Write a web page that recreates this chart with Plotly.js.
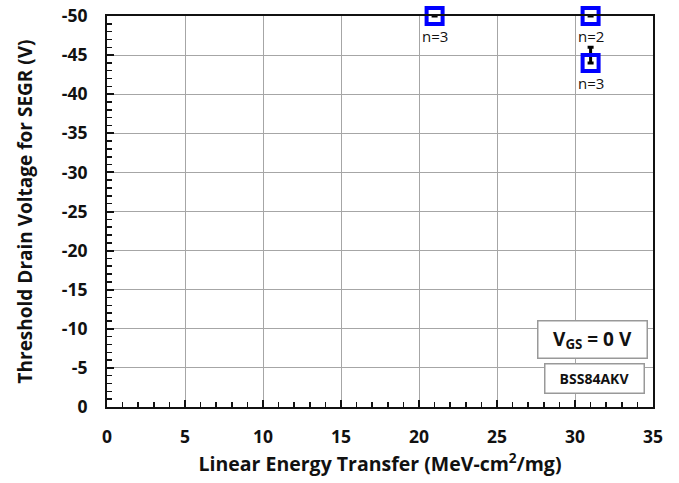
<!DOCTYPE html>
<html><head><meta charset="utf-8">
<script src="https://cdn.plot.ly/plotly-3.0.1.min.js"></script>
<style>body{margin:0;background:#fff}#chart{width:679px;height:483px}</style>
</head><body><div id="chart"></div>
<script>
const letX = [21, 31, 31];
const vdsY = [-50, -50, -44];
const errUp = [0, 0, 2];
const nLabels = ['n=3', 'n=2', 'n=3'];
const xTicks = [0, 5, 10, 15, 20, 25, 30, 35];
const yTicks = [0, -5, -10, -15, -20, -25, -30, -35, -40, -45, -50];

const FONT = '"Open Sans", "Liberation Sans", sans-serif';

const trace = {
  x: letX, y: vdsY, type: 'scatter', mode: 'markers',
  marker: {symbol: 'square-open', size: 16, color: '#0000ff', line: {width: 4, color: '#0000ff'}},
  error_y: {type: 'data', symmetric: false, array: [0,0,0], arrayminus: errUp, color: '#000', thickness: 3, width: 3},
  cliponaxis: false, showlegend: false, hoverinfo: 'skip'
};

const annotations = letX.map((x, i) => ({
  x: x, y: vdsY[i], xref: 'x', yref: 'y', text: nLabels[i], showarrow: false,
  yshift: -20, font: {family: FONT, size: 15, color: '#111'}
}));
annotations.push({
  xref: 'paper', yref: 'paper', x: 0.99, y: 0.172, xanchor: 'right', yanchor: 'middle',
  text: '<b>V<sub>GS</sub> = 0 V</b>', showarrow: false,
  font: {family: FONT, size: 19, color: '#111'},
  bordercolor: '#999', borderwidth: 1.5, bgcolor: '#fff', width: 106, height: 34
});
annotations.push({
  xref: 'paper', yref: 'paper', x: 0.986, y: 0.072, xanchor: 'right', yanchor: 'middle',
  text: '<b>BSS84AKV</b>', showarrow: false,
  font: {family: FONT, size: 14, color: '#111'},
  bordercolor: '#999', borderwidth: 1.5, bgcolor: '#fff', width: 96, height: 26
});

const layout = {
  width: 679, height: 483,
  margin: {l: 107, r: 26, t: 16, b: 76},
  paper_bgcolor: '#fff', plot_bgcolor: '#fff',
  font: {family: FONT, color: '#111'},
  xaxis: {
    range: [0, 35], tickvals: xTicks, ticktext: xTicks.map(String),
    showgrid: true, gridcolor: '#a6a6a6', gridwidth: 1,
    showline: true, linecolor: '#111', linewidth: 2, mirror: true,
    ticks: 'inside', ticklen: 7, tickwidth: 2, tickcolor: '#111',
    minor: {dtick: 1, ticks: 'inside', ticklen: 5, tickwidth: 1.5, tickcolor: '#111', showgrid: false},
    tickfont: {family: FONT, size: 17.5, color: '#111', weight: 'bold'},
    ticklabelstandoff: 13, zeroline: false,
    title: {text: '<b>Linear Energy Transfer (MeV-cm<sup>2</sup>/mg)</b>', font: {family: FONT, size: 19.5, color: '#111'}, standoff: 5}
  },
  yaxis: {
    range: [0, -50], tickvals: yTicks, ticktext: yTicks.map(String),
    showgrid: true, gridcolor: '#a6a6a6', gridwidth: 1,
    showline: true, linecolor: '#111', linewidth: 2, mirror: true,
    ticks: 'inside', ticklen: 7, tickwidth: 2, tickcolor: '#111',
    minor: {dtick: 1, ticks: 'inside', ticklen: 5, tickwidth: 1.5, tickcolor: '#111', showgrid: false},
    tickfont: {family: FONT, size: 17.5, color: '#111', weight: 'bold'},
    ticklabelstandoff: 14, zeroline: false,
    title: {text: '<b>Threshold Drain Voltage for SEGR (V)</b>', font: {family: FONT, size: 19, color: '#111'}, standoff: 24}
  },
  annotations: annotations
};

Plotly.newPlot('chart', [trace], layout, {displayModeBar: false, staticPlot: true});
</script></body></html>
